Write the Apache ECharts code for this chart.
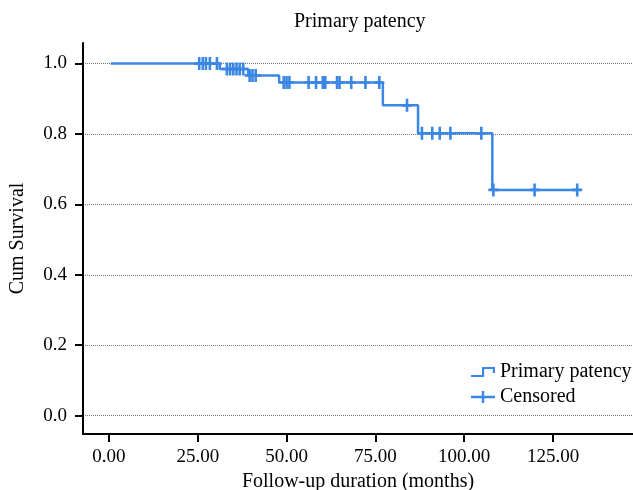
<!DOCTYPE html>
<html lang="en">

<head>
    <meta charset="UTF-8">
    <title>Primary patency</title>
    <style>
        html, body { margin: 0; padding: 0; background: #fff; }
        #chart { width: 633px; height: 490px; }
    </style>
</head>

<body>
    <div id="chart"></div>
</body>

<script src="https://cdn.jsdelivr.net/npm/echarts@6.0.0/dist/echarts.min.js"></script>
<script>
    // Kaplan-Meier step: start, event times and survival after each step
    var startTime = 0.5;
    var endTime = 131.8;
    var eventTimes = [31.2, 39.2, 47.9, 77.1, 87.0, 107.9];
    var survival = [1.0, 0.984, 0.966, 0.946, 0.881, 0.802, 0.641];

    // censored follow-up times (months)
    var censorTimes = [
        25.4, 26.4, 27.3, 28.4, 30.4,
        33.2, 34.1, 35.0, 35.9, 36.8, 37.8,
        39.6, 40.4, 41.3,
        49.2, 50.0, 50.8, 56.2, 58.3, 60.2, 60.9, 64.2, 64.9, 68.2, 72.2, 76.1,
        83.9,
        88.1, 91.0, 93.1, 96.1, 104.8,
        108.2, 119.8, 131.8
    ];

    var xTicks = [0, 25, 50, 75, 100, 125];
    var yTicks = [0, 0.2, 0.4, 0.6, 0.8, 1.0];

    var FONT = 'Liberation Serif';
    var BLUE = '#3b87e5';

    function survivalAt(t) {
        var s = survival[0];
        for (var i = 0; i < eventTimes.length; i++) {
            if (t >= eventTimes[i]) s = survival[i + 1];
        }
        return s;
    }

    function getStepData() {
        var d = [[startTime, survival[0]]];
        eventTimes.forEach(function (t, i) { d.push([t, survival[i + 1]]); });
        d.push([endTime, survival[survival.length - 1]]);
        return d;
    }

    function getCensorData() {
        return censorTimes.map(function (t) { return [t, survivalAt(t)]; });
    }

    var stepIcon = 'path://M0,8.8 H11 V0.8 H24 V7 H21.8 V3 H13.2 V11 H0 Z';
    var plusIcon = 'path://M0,4.8 H10.8 V0 H13.2 V4.8 H24 V7.2 H13.2 V12 H10.8 V7.2 H0 Z';
    var censorMark = 'path://M3.7,0 H6.3 V5.2 H10 V7.8 H6.3 V13 H3.7 V7.8 H0 V5.2 H3.7 Z';

    function getOption() {
        return {
            animation: false,
            backgroundColor: '#fff',
            title: {
                text: 'Primary patency', left: 289, top: 7,
                textStyle: { fontFamily: FONT, fontSize: 20, fontWeight: 'normal', color: '#000' }
            },
            legend: {
                orient: 'vertical', left: 466, top: 357, itemWidth: 24, itemHeight: 12, itemGap: 5,
                selectedMode: false,
                textStyle: { fontFamily: FONT, fontSize: 20, color: '#000' },
                data: [
                    { name: 'Primary patency', icon: stepIcon, itemStyle: { color: BLUE } },
                    { name: 'Censored', icon: plusIcon, itemStyle: { color: BLUE } }
                ]
            },
            grid: { left: 83, right: 0, top: 43, bottom: 56, containLabel: false, outerBoundsMode: 'none' },
            xAxis: {
                type: 'value', min: -7.3, max: 147.5,
                name: 'Follow-up duration (months)', nameLocation: 'middle', nameGap: 38,
                nameTextStyle: { fontFamily: FONT, fontSize: 20, color: '#000' },
                axisLine: { onZero: false, lineStyle: { color: '#000', width: 2 } },
                axisTick: { length: 8, lineStyle: { color: '#000', width: 2 }, customValues: xTicks },
                axisLabel: {
                    customValues: xTicks, margin: 14,
                    fontFamily: FONT, fontSize: 19, color: '#000',
                    formatter: function (v) { return v.toFixed(2); }
                },
                splitLine: { show: false }
            },
            yAxis: {
                type: 'value', min: -0.052, max: 1.058,
                name: 'Cum Survival', nameLocation: 'middle', nameGap: 55,
                nameTextStyle: { fontFamily: FONT, fontSize: 20, color: '#000' },
                axisLine: { show: true, onZero: false, lineStyle: { color: '#000', width: 2 } },
                axisTick: { show: true, length: 8, lineStyle: { color: '#000', width: 2 }, customValues: yTicks },
                axisLabel: {
                    customValues: yTicks, margin: 16,
                    fontFamily: FONT, fontSize: 19, color: '#000',
                    formatter: function (v) { return v.toFixed(1); }
                },
                splitLine: { show: true, lineStyle: { color: '#777', type: 'dotted', width: 1 } }
            },
            series: [
                {
                    name: 'Primary patency', type: 'line', step: 'end', showSymbol: false,
                    data: getStepData(),
                    lineStyle: { color: BLUE, width: 2.5 }, itemStyle: { color: BLUE }
                },
                {
                    name: 'Censored', type: 'scatter', symbol: censorMark, symbolSize: [10, 13],
                    data: getCensorData(),
                    itemStyle: { color: BLUE, opacity: 1 }
                }
            ]
        };
    }

    var myChart = echarts.init(document.getElementById('chart'));
    myChart.setOption(getOption());
</script>

</html>
